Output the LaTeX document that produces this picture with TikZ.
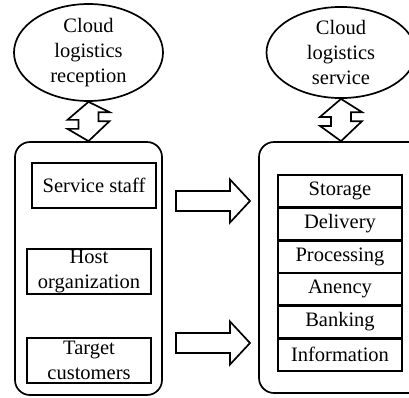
\documentclass[tikz,border=0pt]{standalone}
\usepackage{fontspec}
\setmainfont{Liberation Serif}
\usetikzlibrary{shapes.geometric,calc}
\begin{document}
\begin{tikzpicture}[x=1pt,y=-1pt,
  every node/.style={font=\fontsize{20.5}{25}\selectfont, align=center, inner sep=0pt},
  cloudnode/.style={ellipse, draw, line width=1.7pt, minimum width=149pt, minimum height=85pt},
  panel/.style={draw, line width=1.7pt, rounded corners=15pt},
  role/.style={draw, line width=2.6pt, minimum width=124pt, minimum height=45pt},
  service/.style={draw, line width=2.4pt, minimum width=124pt, minimum height=32.7pt},
  blockarrow/.style={draw, line width=1.7pt, line join=miter, fill=white}]
\useasboundingbox (0,0) rectangle (409,397);
\clip (0,0) rectangle (409,397);

% top ellipses
\node[cloudnode] (lcloud) at (88.5,52.5) {Cloud\\logistics\\reception};
\node[cloudnode] (rcloud) at (341,52.5) {Cloud\\logistics\\service};

% panels
\node[panel, minimum width=147pt, minimum height=253pt] (lpanel) at (88.5,268.5) {};
\node[panel, minimum width=181pt, minimum height=251pt] (rpanel) at (349.5,267.5) {};

% participants
\node[role] (staff) at (94,185.5) {Service staff};
\node[role] (host) at (89,271.5) {Host\\organization};
\node[role] (target) at (89,360.5) {Target\\customers};

% services
\node[service] (storage) at (340,191.3) {Storage};
\node[service] (delivery) at (340,224) {Delivery};
\node[service] (processing) at (340,256.7) {Processing};
\node[service] (anency) at (340,289.3) {Anency};
\node[service] (banking) at (340,322) {Banking};
\node[service] (information) at (340,354.7) {Information};

% two-way block arrows
\draw[blockarrow] (lcloud.south) -- ++(-21,18) -- ++(11,0) -- ++(0,9) -- ++(-11,0)
  -- (lcloud.south |- lpanel.north) -- ++(21,-20) -- ++(-11,0) -- ++(0,-9) -- ++(11,0) -- cycle;
\draw[blockarrow] (rcloud.south) -- ++(-21,18) -- ++(11,0) -- ++(0,9) -- ++(-11,0)
  -- (rcloud.south |- rpanel.north) -- ++(21,-20) -- ++(-11,0) -- ++(0,-9) -- ++(11,0) -- cycle;

% one-way block arrows
\coordinate (a1) at (176,201);
\coordinate (a2) at (176,343);
\draw[blockarrow] (a1) ++(0,-10) -- ++(54,0) -- ++(0,-11.5) -- ++(20,21.5) -- ++(-20,21.5)
  -- ++(0,-11.5) -- ++(-54,0) -- cycle;
\draw[blockarrow] (a2) ++(0,-10) -- ++(54,0) -- ++(0,-11.5) -- ++(20,21.5) -- ++(-20,21.5)
  -- ++(0,-11.5) -- ++(-54,0) -- cycle;
\end{tikzpicture}
\end{document}
